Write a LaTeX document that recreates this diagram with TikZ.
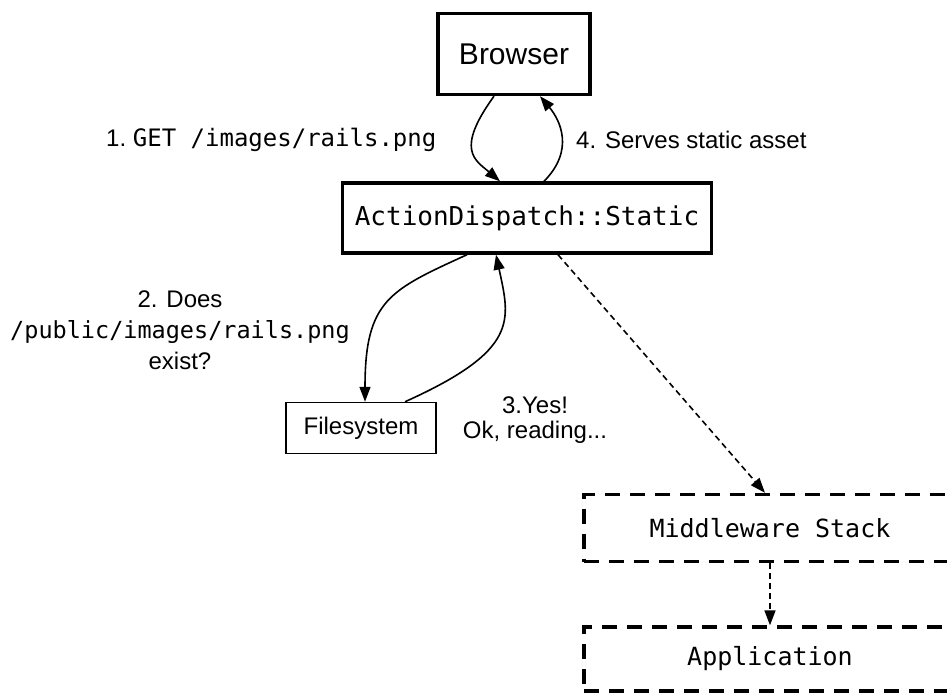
\documentclass[tikz,border=0pt]{standalone}
\usepackage{fontspec}
\setmainfont{Liberation Sans}
\setmonofont{DejaVu Sans Mono}
\usetikzlibrary{arrows.meta}

\begin{document}
\begin{tikzpicture}[
  x=1pt, y=-1pt,
  box/.style={rectangle, draw=black, line width=3.4pt, fill=white, inner sep=0pt, align=center},
  thinbox/.style={box, line width=1.5pt},
  dbox/.style={box, line width=3.4pt, dash pattern=on 15pt off 10pt},
  lbl/.style={font=\fontsize{24}{31}\selectfont, align=center, inner sep=0pt},
  flow/.style={-{Triangle[length=15pt,width=11pt]}, line width=1.6pt},
  dflow/.style={flow, dash pattern=on 6pt off 4pt}
]
\clip (0,0) rectangle (947,694);

\node[box, minimum width=152pt, minimum height=81pt, font=\fontsize{30}{36}\selectfont]
  (browser) at (514,54) {Browser};
\node[box, minimum width=369pt, minimum height=70pt, font=\ttfamily\fontsize{26}{30}\selectfont]
  (static) at (527,218) {ActionDispatch::Static};
\node[thinbox, minimum width=150pt, minimum height=51pt, font=\fontsize{24}{28}\selectfont]
  (fs) at (361,428) {Filesystem};
\node[dbox, minimum width=372pt, minimum height=67pt, font=\ttfamily\fontsize{25}{30}\selectfont]
  (mw) at (770,528) {Middleware Stack};
\node[dbox, minimum width=372pt, minimum height=64pt, font=\ttfamily\fontsize{25}{30}\selectfont]
  (app) at (770,659) {Application};

% request / response
\draw[flow] ([xshift=-20pt]browser.south) .. controls (455,150) and (475,160) .. ([xshift=-27pt]static.north);
\draw[flow] ([xshift=17pt]static.north) .. controls (575,150) and (560,120) .. ([xshift=26pt]browser.south);

% filesystem lookup
\draw[flow] ([xshift=-60pt]static.south) .. controls (390,290) and (365,300) .. ([xshift=4pt]fs.north);
\draw[flow] ([xshift=44pt]fs.north) .. controls (520,350) and (510,320) .. ([xshift=-31pt]static.south);

% fall through
\draw[dflow] ([xshift=31pt]static.south) -- ([xshift=-5pt]mw.north);
\draw[dflow] (mw.south) -- (app.north);

\node[lbl, anchor=west] (l1) at (106,140) {1.~\texttt{\fontsize{24}{31}\selectfont GET /images/rails.png}};
\node[lbl, anchor=west] (l4) at (576,140) {4. Serves static asset};
\node[lbl] (l2) at (180,330) {2. Does\\\texttt{\fontsize{23.5}{31}\selectfont /public/images/rails.png}\\exist?};
\node[lbl, font=\fontsize{24}{25}\selectfont] (l3) at (535,420) {3.Yes!\\Ok, reading...};
\end{tikzpicture}
\end{document}
